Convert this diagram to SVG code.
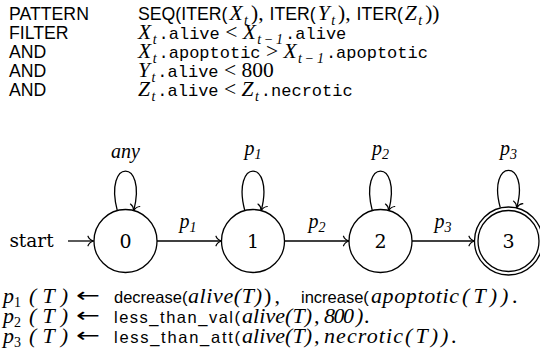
<svg xmlns="http://www.w3.org/2000/svg" width="540" height="358" viewBox="0 0 540 358">
  <style>
    text { fill: #000; }
    .s { font-family: "Liberation Sans", Arial, sans-serif; font-size: 16.5px; font-style: normal; }
    .hs { font-family: "Liberation Sans", Arial, sans-serif; font-size: 17.7px; font-style: normal; }
    .m { font-family: "Liberation Serif", serif; font-style: italic; font-size: 22px; }
    .hm { font-family: "Liberation Serif", serif; font-style: italic; font-size: 21.5px; }
    .r { font-family: "Liberation Serif", serif; font-size: 22px; font-style: normal; }
    .hr { font-family: "Liberation Serif", serif; font-size: 21.5px; font-style: normal; }
    .tt { font-family: "Liberation Mono", monospace; font-size: 17px; font-style: normal; }
    .sb { font-size: 14px; }
    .arw { font-family: "DejaVu Sans", sans-serif; font-size: 20px; }
    .lbl { font-family: "Liberation Serif", serif; font-style: italic; font-size: 20px; text-anchor: middle; }
    .lsb { font-size: 14px; }
    .num { font-family: "DejaVu Serif", serif; font-size: 19px; text-anchor: middle; }
    .state { fill: #fff; stroke: #000; stroke-width: 1.3; }
    .edge { fill: none; stroke: #000; stroke-width: 1.3; marker-end: url(#to); }
  </style>
  <defs>
    <marker id="to" viewBox="-7 -6 8 12" markerWidth="8" markerHeight="12" refX="0" refY="0" orient="auto" markerUnits="userSpaceOnUse">
      <path d="M -5.5,-4.8 C -4.5,-2 -1.8,-0.6 0,0 C -1.8,0.6 -4.5,2 -5.5,4.8" fill="none" stroke="#000" stroke-width="1.2" stroke-linecap="round"/>
    </marker>
  </defs>

  <!-- query block: keywords -->
  <g id="keywords">
    <text class="hs" x="9" y="19.5">PATTERN</text>
    <text class="hs" x="9" y="38.5">FILTER</text>
    <text class="hs" x="9" y="57.5">AND</text>
    <text class="hs" x="9" y="76.5">AND</text>
    <text class="hs" x="9" y="95.5">AND</text>
  </g>

  <!-- query block: clauses -->
  <g id="clauses">
    <text x="138" y="19.5"><tspan class="hs">SEQ(ITER(</tspan><tspan class="hm" dx="2">X</tspan><tspan class="hm sb" dx="1.5" dy="5">t</tspan><tspan class="hr" dx="3" dy="-5">),</tspan><tspan class="hs" dx="6">ITER(</tspan><tspan class="hm" dx="2">Y</tspan><tspan class="hm sb" dx="1.5" dy="5">t</tspan><tspan class="hr" dx="3" dy="-5">),</tspan><tspan class="hs" dx="6">ITER(</tspan><tspan class="hm" dx="2">Z</tspan><tspan class="hm sb" dx="1.5" dy="5">t</tspan><tspan class="hr" dx="3" dy="-5">))</tspan></text>

    <text x="138" y="38.5"><tspan class="hm">X</tspan><tspan class="hm sb" dx="1.5" dy="5">t</tspan><tspan class="tt" dx="2" dy="-5">.alive</tspan><tspan class="hr"> &lt; </tspan><tspan class="hm">X</tspan><tspan class="hm sb" dx="1.5" dy="5">t</tspan><tspan class="hr sb"> − </tspan><tspan class="hm sb">1</tspan><tspan class="tt" dx="2" dy="-5">.alive</tspan></text>

    <text x="138" y="57.5"><tspan class="hm">X</tspan><tspan class="hm sb" dx="1.5" dy="5">t</tspan><tspan class="tt" dx="2" dy="-5">.apoptotic</tspan><tspan class="hr"> &gt; </tspan><tspan class="hm">X</tspan><tspan class="hm sb" dx="1.5" dy="5">t</tspan><tspan class="hr sb"> − </tspan><tspan class="hm sb">1</tspan><tspan class="tt" dx="2" dy="-5">.apoptotic</tspan></text>

    <text x="138" y="76.5"><tspan class="hm">Y</tspan><tspan class="hm sb" dx="1.5" dy="5">t</tspan><tspan class="tt" dx="2" dy="-5">.alive</tspan><tspan class="hr"> &lt; 800</tspan></text>

    <text x="138" y="95.5"><tspan class="hm">Z</tspan><tspan class="hm sb" dx="1.5" dy="5">t</tspan><tspan class="tt" dx="2" dy="-5">.alive</tspan><tspan class="hr"> &lt; </tspan><tspan class="hm">Z</tspan><tspan class="hm sb" dx="1.5" dy="5">t</tspan><tspan class="tt" dx="2" dy="-5">.necrotic</tspan></text>
  </g>

  <!-- transitions -->
  <g id="connectors">
    <line class="edge" x1="68" y1="241" x2="93.5" y2="241"/>
    <path class="edge" d="M 117.3,210.6 C 103.5,158 147.5,158 133.7,210.6"/>
    <path class="edge" d="M 244.8,210.6 C 231,158 275,158 261.2,210.6"/>
    <path class="edge" d="M 372.3,210.6 C 358.5,158 402.5,158 388.7,210.6"/>
    <path class="edge" d="M 500.3,207.7 C 486.5,158 530.5,158 516.7,207.7"/>
    <line class="edge" x1="157" y1="241" x2="221.5" y2="241"/>
    <line class="edge" x1="284.5" y1="241" x2="349" y2="241"/>
    <line class="edge" x1="412" y1="241" x2="474.5" y2="241"/>
    <text class="lbl" x="125.5" y="158">any</text>
    <text class="lbl" x="253" y="155">p<tspan class="lsb" dy="4">1</tspan></text>
    <text class="lbl" x="380.5" y="155">p<tspan class="lsb" dy="4">2</tspan></text>
    <text class="lbl" x="508.5" y="155">p<tspan class="lsb" dy="4">3</tspan></text>
    <text class="lbl" x="188" y="228">p<tspan class="lsb" dy="4">1</tspan></text>
    <text class="lbl" x="317" y="228">p<tspan class="lsb" dy="4">2</tspan></text>
    <text class="lbl" x="443" y="228">p<tspan class="lsb" dy="4">3</tspan></text>
    <text class="num" x="31.5" y="247" style="font-size:18.5px">start</text>
  </g>

  <g id="s0">
    <circle class="state" cx="125.5" cy="241" r="31.5"/>
    <text class="num" x="125.5" y="247.5">0</text>
  </g>
  <g id="s1">
    <circle class="state" cx="253" cy="241" r="31.5"/>
    <text class="num" x="253" y="247.5">1</text>
  </g>
  <g id="s2">
    <circle class="state" cx="380.5" cy="241" r="31.5"/>
    <text class="num" x="380.5" y="247.5">2</text>
  </g>
  <g id="s3">
    <circle class="state" cx="508.5" cy="241" r="34"/>
    <circle class="state" cx="508.5" cy="241" r="30.5"/>
    <text class="num" x="508.5" y="247.5">3</text>
  </g>

  <!-- predicate definitions -->
  <g id="rules">
    <!-- p1 -->
    <text x="3" y="303"><tspan class="m">p</tspan><tspan class="r sb" dy="4">1</tspan></text>
    <text class="m" x="29" y="303" textLength="39" lengthAdjust="spacing">(T)</text>
    <text class="arw" x="76" y="302" textLength="24" lengthAdjust="spacingAndGlyphs">←</text>
    <text class="s" x="114" y="303">decrease(</text>
    <text class="m" x="188" y="303" textLength="74" lengthAdjust="spacing">alive(T)</text>
    <text class="r" x="264" y="303" textLength="16" lengthAdjust="spacing">),</text>
    <text class="s" x="301" y="303">increase(</text>
    <text class="m" x="371" y="303" textLength="88" lengthAdjust="spacing">apoptotic</text>
    <text class="m" x="462" y="303" textLength="56" lengthAdjust="spacing">(T)).</text>

    <!-- p2 -->
    <text x="3" y="323"><tspan class="m">p</tspan><tspan class="r sb" dy="4">2</tspan></text>
    <text class="m" x="29" y="323" textLength="39" lengthAdjust="spacing">(T)</text>
    <text class="arw" x="76" y="322" textLength="24" lengthAdjust="spacingAndGlyphs">←</text>
    <text class="s" x="114" y="323" textLength="126" lengthAdjust="spacing">less_than_val(</text>
    <text class="m" x="242" y="323" textLength="70" lengthAdjust="spacing">alive(T)</text>
    <text class="m" x="314" y="323">,</text>
    <text class="m" x="324" y="323" textLength="30" lengthAdjust="spacing">800</text>
    <text class="m" x="356" y="323" textLength="14" lengthAdjust="spacing">).</text>

    <!-- p3 -->
    <text x="3" y="343"><tspan class="m">p</tspan><tspan class="r sb" dy="4">3</tspan></text>
    <text class="m" x="29" y="343" textLength="39" lengthAdjust="spacing">(T)</text>
    <text class="arw" x="76" y="342" textLength="24" lengthAdjust="spacingAndGlyphs">←</text>
    <text class="s" x="114" y="343" textLength="126" lengthAdjust="spacing">less_than_att(</text>
    <text class="m" x="242" y="343" textLength="70" lengthAdjust="spacing">alive(T)</text>
    <text class="m" x="314" y="343">,</text>
    <text class="m" x="324" y="343" textLength="79" lengthAdjust="spacing">necrotic</text>
    <text class="m" x="405" y="343" textLength="52" lengthAdjust="spacing">(T)).</text>
  </g>
</svg>
